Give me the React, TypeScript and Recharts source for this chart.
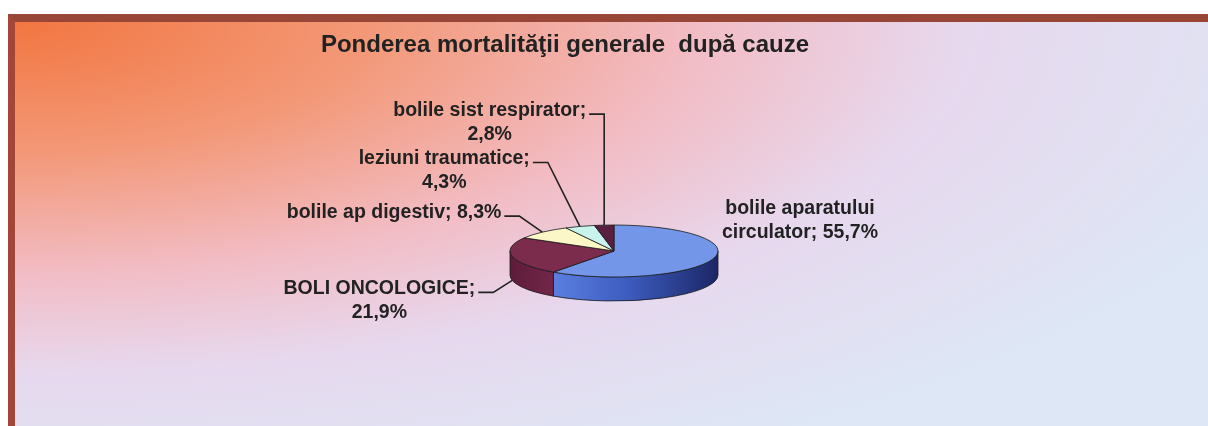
import { PieChart, Pie } from 'recharts'

const CAUSES = [
  'bolile aparatului circulator',
  'BOLI ONCOLOGICE',
  'bolile ap digestiv',
  'leziuni traumatice',
  'bolile sist respirator',
]
const SHARES = [55.7, 21.9, 8.3, 4.3, 2.8]
// words kept on the first text line of each label
const FIRST_LINE_WORDS = [2, 2, 5, 2, 3]

const TOP_COLORS = ['#7396e8', '#7b2b4b', '#fbf7c6', '#c9f4ee', '#5a1e40']
const SIDE_COLORS = ['url(#sideBlue)', 'url(#sideMaroon)', '#d8d49c', '#9fd2cc', '#3e1430']

// elbow of the leader line, relative to the slice's anchor point
const LABEL_LAYOUT = [
  { dx: 87, dy: -69, leader: false },
  { dx: -19, dy: 12, leader: true },
  { dx: -23, dy: -16, leader: true },
  { dx: -32, dy: -64, leader: true },
  { dx: 0, dy: -111, leader: true },
]

const data = CAUSES.map((name, i) => ({ name, value: SHARES[i] }))

const TILT = 0.25
const DEPTH = 24
const RAD = Math.PI / 180
const FONT = '"Liberation Sans", Arial, sans-serif'
const FONT_SIZE = 19.5
const LINE_H = 24

let ctx: CanvasRenderingContext2D | null = null
function textWidth(s: string) {
  if (!ctx) ctx = document.createElement('canvas').getContext('2d')
  if (!ctx) return s.length * 9
  ctx.font = `bold ${FONT_SIZE}px "Liberation Sans"`
  return ctx.measureText(s).width
}

function pt(cx: number, cy: number, rx: number, ry: number, a: number) {
  return [cx + rx * Math.cos(a * RAD), cy - ry * Math.sin(a * RAD)]
}

// eslint-disable-next-line @typescript-eslint/no-explicit-any
const renderSlice = (p: any) => {
  const { cx, cy, outerRadius: rx, startAngle, endAngle, index } = p
  const ry = rx * TILT
  const [x0, y0] = pt(cx, cy, rx, ry, startAngle)
  const [x1, y1] = pt(cx, cy, rx, ry, endAngle)
  const large = Math.abs(startAngle - endAngle) > 180 ? 1 : 0
  const top = `M${cx},${cy} L${x0},${y0} A${rx},${ry} 0 ${large} 1 ${x1},${y1} Z`
  // front wall: the part of the arc on the lower half of the ellipse
  const s = Math.min(startAngle, 0)
  const e = Math.max(endAngle, -180)
  let side = ''
  if (s > e) {
    const [sx, sy] = pt(cx, cy, rx, ry, s)
    const [ex, ey] = pt(cx, cy, rx, ry, e)
    side = `M${sx},${sy} A${rx},${ry} 0 0 1 ${ex},${ey} L${ex},${ey + DEPTH} A${rx},${ry} 0 0 0 ${sx},${sy + DEPTH} Z`
  }
  return (
    <g key={`s${index}`}>
      {side && <path d={side} fill={SIDE_COLORS[index]} stroke="#1a1a1a" strokeWidth={0.8} />}
      <path d={top} fill={TOP_COLORS[index]} stroke="#1a1a1a" strokeWidth={0.8} />
    </g>
  )
}

// eslint-disable-next-line @typescript-eslint/no-explicit-any
const renderLabel = (p: any) => {
  const { cx, cy, outerRadius: rx, midAngle, index } = p
  const ry = rx * TILT
  const [ax, a0] = pt(cx, cy, rx, ry, midAngle)
  const ay = Math.sin(midAngle * RAD) < 0.2 ? a0 + DEPTH : a0
  const lay = LABEL_LAYOUT[index]
  const full = `${CAUSES[index]}; ${SHARES[index].toFixed(1).replace('.', ',')}%`
  const words = full.split(' ')
  const l1 = words.slice(0, FIRST_LINE_WORDS[index]).join(' ')
  const l2 = words.slice(FIRST_LINE_WORDS[index]).join(' ')
  const ex = ax + lay.dx
  const ey = ay + lay.dy
  const center = lay.leader ? ex - 18 - textWidth(l1) / 2 : ex
  const base = lay.leader ? ey + 2 : ey
  return (
    <g key={`l${index}`}>
      {lay.leader && (
        <polyline points={`${ex - 15},${ey} ${ex},${ey} ${ax},${ay}`} fill="none" stroke="#222" strokeWidth={1.6} />
      )}
      <text x={center} y={base} textAnchor="middle" fontFamily={FONT} fontWeight="bold" fontSize={FONT_SIZE} fill="#222">
        {l1}
      </text>
      {l2 && (
        <text x={center} y={base + LINE_H} textAnchor="middle" fontFamily={FONT} fontWeight="bold" fontSize={FONT_SIZE} fill="#222">
          {l2}
        </text>
      )}
    </g>
  )
}

export default function App() {
  return (
    <div
      style={{
        position: 'fixed',
        left: 8,
        top: 14,
        width: 1193,
        height: 404,
        borderTop: '8px solid #984638',
        borderLeft: '7px solid #a3463a',
        background:
          'radial-gradient(ellipse 1350px 500px at 0% 0%, #f27641 0%, #f39877 26%, #f2bcc4 50%, #e7d8ee 70%, #dde7f5 100%)',
        overflow: 'hidden',
      }}
    >
      <div
        style={{
          position: 'absolute',
          left: 0,
          top: 10,
          width: 1100,
          textAlign: 'center',
          fontFamily: FONT,
          fontWeight: 'bold',
          fontSize: 24,
          lineHeight: '24px',
          color: '#222',
        }}
      >
        Ponderea mortalităţii generale&nbsp; după cauze
      </div>
      <div style={{ position: 'absolute', left: 0, top: 0 }}>
        <PieChart width={1193} height={404} margin={{ top: 0, right: 0, bottom: 0, left: 0 }}>
          <defs>
            <linearGradient id="sideBlue" x1="0" y1="0" x2="1" y2="0">
              <stop offset="0%" stopColor="#5a7fe0" />
              <stop offset="45%" stopColor="#3d5cbf" />
              <stop offset="100%" stopColor="#1b2766" />
            </linearGradient>
            <linearGradient id="sideMaroon" x1="0" y1="0" x2="1" y2="0">
              <stop offset="0%" stopColor="#5e1c39" />
              <stop offset="100%" stopColor="#72264a" />
            </linearGradient>
          </defs>
          <Pie
            data={data}
            dataKey="value"
            nameKey="name"
            cx={599}
            cy={229}
            outerRadius={104}
            startAngle={90}
            endAngle={-270}
            fill="none"
            stroke="none"
            label={renderSlice}
            labelLine={false}
            isAnimationActive={false}
          />
          <Pie
            data={data}
            dataKey="value"
            nameKey="name"
            cx={599}
            cy={229}
            outerRadius={104}
            startAngle={90}
            endAngle={-270}
            fill="none"
            stroke="none"
            label={renderLabel}
            labelLine={false}
            isAnimationActive={false}
          />
        </PieChart>
      </div>
    </div>
  )
}
